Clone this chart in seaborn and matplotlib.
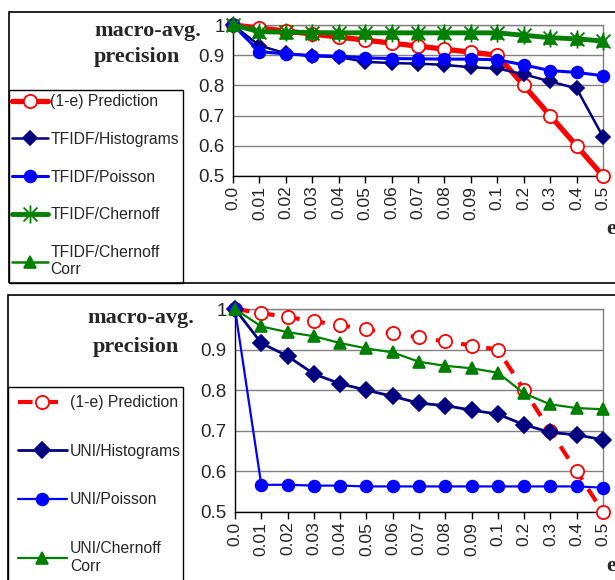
import matplotlib
matplotlib.use("Agg")
import matplotlib.pyplot as plt
import seaborn as sns
import numpy as np
from matplotlib.patches import Rectangle
from matplotlib.path import Path

# valores
e_labels = ["0.0", "0.01", "0.02", "0.03", "0.04", "0.05", "0.06", "0.07",
            "0.08", "0.09", "0.1", "0.2", "0.3", "0.4", "0.5"]

pred = [1.0, 0.99, 0.98, 0.97, 0.96, 0.95, 0.94, 0.93, 0.92, 0.91, 0.9, 0.8, 0.7, 0.6, 0.5]

tfidf_hist = [1.0, 0.932, 0.906, 0.897, 0.894, 0.878, 0.874, 0.872, 0.868, 0.86, 0.856, 0.837, 0.813, 0.79, 0.63]
tfidf_poisson = [1.0, 0.912, 0.904, 0.899, 0.897, 0.891, 0.889, 0.888, 0.887, 0.887, 0.885, 0.868, 0.849, 0.843, 0.832]
tfidf_chernoff = [1.0, 0.978, 0.976, 0.975, 0.974, 0.974, 0.974, 0.974, 0.974, 0.974, 0.974, 0.966, 0.958, 0.954, 0.947]
tfidf_chernoff_corr = [1.0, 0.976, 0.975, 0.974, 0.972, 0.972, 0.972, 0.972, 0.972, 0.972, 0.972, 0.965, 0.957, 0.953, 0.946]

uni_hist = [1.0, 0.916, 0.884, 0.84, 0.816, 0.8, 0.785, 0.768, 0.762, 0.751, 0.741, 0.715, 0.696, 0.69, 0.678]
uni_poisson = [1.0, 0.567, 0.567, 0.565, 0.565, 0.563, 0.563, 0.563, 0.563, 0.563, 0.563, 0.563, 0.563, 0.563, 0.560]
uni_chernoff_corr = [1.0, 0.957, 0.943, 0.933, 0.916, 0.903, 0.893, 0.87, 0.86, 0.854, 0.843, 0.792, 0.765, 0.756, 0.753]

y_ticks = [0.5, 0.6, 0.7, 0.8, 0.9, 1.0]
y_tick_labels = ["0.5", "0.6", "0.7", "0.8", "0.9", "1"]

sns.set_style("white")
plt.rcParams['font.family'] = ['Liberation Sans', 'DejaVu Sans']

W, H = 615, 580
fig = plt.figure(figsize=(W / 100, H / 100), dpi=100)

def fx(px):
    return px / W

def fy(py):
    return 1 - py / H

# marcador estrela do Excel (X + barra vertical)
star = Path([(-1, -1), (1, 1), (-1, 1), (1, -1), (0, -1.3), (0, 1.3)],
            [Path.MOVETO, Path.LINETO, Path.MOVETO, Path.LINETO, Path.MOVETO, Path.LINETO])

x = np.arange(len(e_labels))

def eixo(left, right, top, bottom):
    ax = fig.add_axes([fx(left), fy(bottom), fx(right - left), (bottom - top) / H])
    return ax

def formatar(ax):
    ax.set_xlim(0, len(e_labels) - 1)
    ax.set_ylim(0.5, 1.0)
    ax.set_yticks(y_ticks)
    ax.set_yticklabels(y_tick_labels, fontsize=13.5)
    ax.set_xticks(x)
    ax.set_xticklabels(e_labels, rotation=90, fontsize=12.5)
    ax.yaxis.grid(True, color="#808080", lw=1)
    ax.set_axisbelow(True)
    for s in ["top", "right"]:
        ax.spines[s].set_color("#808080")
        ax.spines[s].set_linewidth(1)
    for s in ["left", "bottom"]:
        ax.spines[s].set_color("black")
        ax.spines[s].set_linewidth(1)
    ax.tick_params(axis="x", direction="out", length=5, width=1, color="black", bottom=True, pad=2)
    ax.tick_params(axis="y", length=0, pad=6)
    ax.set_xlabel("")
    ax.set_ylabel("")
    for sp in ax.spines.values():
        sp.set_zorder(1)

def serie(ax, y, label, color, marker, lw, ms, mfc=None, mew=1.2, ls="-"):
    sns.lineplot(x=x, y=y, ax=ax, color=color, lw=lw, marker=marker, markersize=ms,
                 markerfacecolor=mfc if mfc else color, markeredgecolor=color,
                 markeredgewidth=mew, linestyle=ls, label=label, clip_on=False,
                 legend=False)

# ---------- painel superior ----------
fig.patches.append(Rectangle((fx(9), fy(283)), fx(640 - 9), (283 - 12) / H, fill=False,
                             edgecolor="black", lw=1.2, transform=fig.transFigure))
fig.patches.append(Rectangle((fx(9), fy(283)), fx(183 - 9), (283 - 90) / H, fill=False,
                             edgecolor="black", lw=1.0, transform=fig.transFigure))

ax1 = eixo(233, 603, 25, 176)
serie(ax1, pred, "(1-e) Prediction", "#FF0000", "o", 3.8, 9.5, mfc="white", mew=1.3)
serie(ax1, tfidf_hist, "TFIDF/Histograms", "#000080", "D", 1.8, 7)
serie(ax1, tfidf_poisson, "TFIDF/Poisson", "#0000FF", "o", 2.2, 8.5)
serie(ax1, tfidf_chernoff, "TFIDF/Chernoff", "#008000", star, 3.5, 13, mew=1.3)
serie(ax1, tfidf_chernoff_corr, "TFIDF/Chernoff\nCorr", "#008000", "^", 1.8, 9)
formatar(ax1)

h1, l1 = ax1.get_legend_handles_labels()
fig.legend(h1, l1, loc="upper left", bbox_to_anchor=(fx(12), fy(94)), frameon=False,
           fontsize=11.3, borderpad=0, borderaxespad=0, labelspacing=1.45,
           handlelength=2.3, handletextpad=0.15)

fig.text(fx(94), fy(31), "macro-avg.", fontsize=16, fontweight="bold",
         family="Liberation Serif", va="center", ha="left")
fig.text(fx(94), fy(57), "precision", fontsize=16, fontweight="bold",
         family="Liberation Serif", va="center", ha="left")
fig.text(fx(606), fy(229), "e", fontsize=16, fontweight="bold",
         family="Liberation Serif", va="center", ha="left")

# ---------- painel inferior ----------
fig.patches.append(Rectangle((fx(8), fy(600)), fx(640 - 8), (600 - 295) / H, fill=False,
                             edgecolor="black", lw=1.2, transform=fig.transFigure))
fig.patches.append(Rectangle((fx(8), fy(600)), fx(183 - 8), (600 - 387) / H, fill=False,
                             edgecolor="black", lw=1.0, transform=fig.transFigure))

ax2 = eixo(235, 603, 309, 512)
serie(ax2, pred, "(1-e) Prediction", "#FF0000", "o", 3.0, 9.5, mfc="white", mew=1.3, ls=(0, (3.5, 2.6)))
serie(ax2, uni_hist, "UNI/Histograms", "#000080", "D", 2.0, 8)
serie(ax2, uni_poisson, "UNI/Poisson", "#0000FF", "o", 1.6, 8.5)
serie(ax2, uni_chernoff_corr, "UNI/Chernoff\nCorr", "#008000", "^", 1.6, 9)
formatar(ax2)

h2, l2 = ax2.get_legend_handles_labels()
fig.legend(h2, l2, loc="upper left", bbox_to_anchor=(fx(18), fy(395)), frameon=False,
           fontsize=11.3, borderpad=0, borderaxespad=0, labelspacing=2.15,
           handlelength=3.1, handletextpad=0.2)

fig.text(fx(87), fy(318), "macro-avg.", fontsize=16, fontweight="bold",
         family="Liberation Serif", va="center", ha="left")
fig.text(fx(93), fy(347), "precision", fontsize=16, fontweight="bold",
         family="Liberation Serif", va="center", ha="left")
fig.text(fx(606), fy(566), "e", fontsize=16, fontweight="bold",
         family="Liberation Serif", va="center", ha="left")

fig.savefig("out.png", dpi=100)
